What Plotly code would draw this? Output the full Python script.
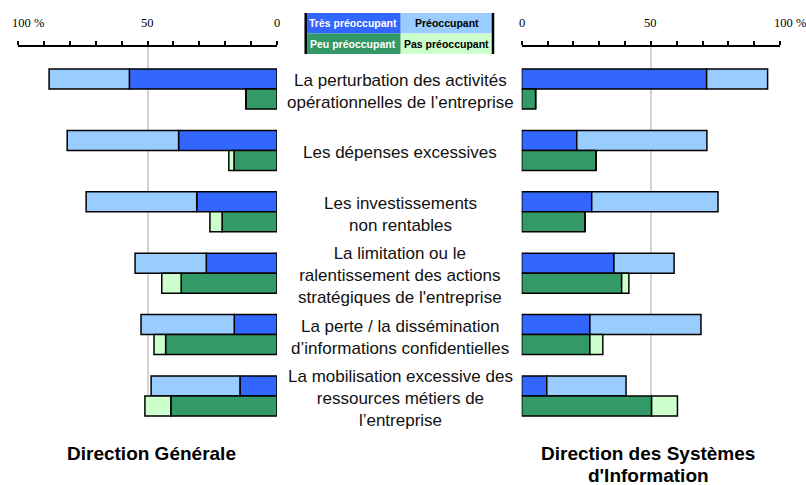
import plotly.graph_objects as go

# Risk categories, top to bottom
categories = [
    "La perturbation des activités<br>opérationnelles de l’entreprise",
    "Les dépenses excessives",
    "Les investissements<br>non rentables",
    "La limitation ou le<br>ralentissement des actions<br>stratégiques de l'entreprise",
    "La perte / la dissémination<br>d’informations confidentielles",
    "La mobilisation excessive des<br>ressources métiers de<br>l’entreprise",
]

levels = ["Très préoccupant", "Préoccupant", "Peu préoccupant", "Pas préoccupant"]
level_colors = ["#3366FF", "#99CCFF", "#339966", "#CCFFCC"]
level_text_colors = ["white", "black", "white", "black"]

# Direction Générale (%)
dg_tres = [57.0, 38.0, 31.0, 27.3, 16.5, 14.3]
dg_preoc = [31.0, 43.0, 42.7, 27.5, 36.0, 34.3]
dg_peu = [12.0, 16.6, 21.2, 37.0, 43.0, 41.0]
dg_pas = [0.0, 2.0, 4.7, 7.5, 4.5, 10.0]

# Direction des Systèmes d'Information (%)
dsi_tres = [71.6, 21.3, 27.1, 35.7, 26.4, 9.7]
dsi_preoc = [23.6, 50.4, 48.9, 23.3, 43.0, 30.7]
dsi_peu = [5.4, 28.8, 24.5, 38.7, 26.4, 50.3]
dsi_pas = [0.0, 0.0, 0.0, 2.8, 5.0, 10.0]

tick_vals = [0, 50, 100]
tick_labels = ["0", "50", "100 %"]

panel_titles = [["Direction Générale"], ["Direction des Systèmes", "d'Information"]]

W, H = 806, 485
SANS = "Liberation Sans, Arial, sans-serif"
SERIF = "Liberation Serif, Times New Roman, serif"

BAR_W = 0.326
OFF = 0.163

fig = go.Figure()


def add_panel(tres, preoc, peu, pas, xa, ya):
    n = len(tres)
    top_y = [i - OFF for i in range(n)]
    bot_y = [i + OFF for i in range(n)]
    specs = [
        (tres, [0] * n, top_y, 0),
        (preoc, list(tres), top_y, 1),
        (peu, [0] * n, bot_y, 2),
        (pas, list(peu), bot_y, 3),
    ]
    for vals, base, ys, k in specs:
        fig.add_trace(go.Bar(
            x=vals, y=ys, base=base, orientation="h", width=BAR_W,
            marker=dict(color=level_colors[k], line=dict(color="black", width=1.5)),
            name=levels[k], showlegend=False, xaxis=xa, yaxis=ya,
            hoverinfo="x+name",
        ))


add_panel(dg_tres, dg_preoc, dg_peu, dg_pas, "x", "y")
add_panel(dsi_tres, dsi_preoc, dsi_peu, dsi_pas, "x2", "y2")

y_dom = [1 - 417 / H, 1 - 47 / H]
y_rng = [5.342, -0.684]

common_x = dict(
    side="top",
    tickvals=tick_vals,
    showticklabels=False,
    ticks="outside", ticklen=4, tickwidth=1.5, tickcolor="black",
    minor=dict(dtick=10, tick0=0, ticks="outside", ticklen=4, tickwidth=1.5,
               tickcolor="black", showgrid=False),
    showline=True, linecolor="black", linewidth=2,
    showgrid=True, gridcolor="#d4d4d4", gridwidth=2,
    zeroline=False,
    automargin=False,
    fixedrange=True,
)
common_y = dict(
    domain=y_dom, range=y_rng, showticklabels=False, showgrid=False,
    zeroline=False, showline=False, ticks="", fixedrange=True, automargin=False,
)

fig.update_layout(
    width=W, height=H, autosize=False,
    margin=dict(l=0, r=0, t=0, b=0, pad=0, autoexpand=False),
    paper_bgcolor="white", plot_bgcolor="white",
    barmode="overlay",
    xaxis=dict(domain=[18 / W, 277 / W], range=[100, 0], anchor="y", **common_x),
    xaxis2=dict(domain=[521.7 / W, 780 / W], range=[0, 100], anchor="y2", **common_x),
    yaxis=dict(anchor="x", **common_y),
    yaxis2=dict(anchor="x2", **common_y),
    font=dict(family=SANS),
)

# Axis tick labels above each scale ("100 %" starts just before its tick)
for xref in ("x", "x2"):
    for v, t in zip(tick_vals, tick_labels):
        wide = "%" in t
        fig.add_annotation(
            x=v, xref=xref, y=1 - 23 / H, yref="paper", text=t, showarrow=False,
            xanchor="left" if wide else "center", xshift=-8 if wide else 0,
            yanchor="middle",
            font=dict(family=SERIF, size=12.5, color="black"),
        )

# Category labels between the two panels
for i, lab in enumerate(categories):
    fig.add_annotation(
        x=400 / W, xref="paper", y=i + 0.04, yref="y",
        text=lab, showarrow=False, xanchor="center", yanchor="middle",
        font=dict(family=SANS, size=17, color="#111111"), align="center",
    )

# Panel titles, one annotation per line
title_x = [151, 648]
title_y0, title_dy = 453, 22
for lines, tx in zip(panel_titles, title_x):
    for j, line in enumerate(lines):
        fig.add_annotation(x=tx / W, xref="paper", y=1 - (title_y0 + j * title_dy) / H,
                           yref="paper", text="<b>" + line + "</b>", showarrow=False,
                           xanchor="center", yanchor="middle",
                           font=dict(family=SANS, size=19, color="black"))

# Colour key as a 2x2 table at the top centre
lx0, lxm, lx1 = 305.7, 400.7, 493.0
ly0, lym, ly1 = 13.0, 33.5, 54.0
cells = [(lx0, lxm, ly0, lym), (lxm, lx1, ly0, lym),
         (lx0, lxm, lym, ly1), (lxm, lx1, lym, ly1)]
for k, (a, b, c, d) in enumerate(cells):
    fig.add_shape(type="rect", xref="paper", yref="paper",
                  x0=a / W, x1=b / W, y0=1 - d / H, y1=1 - c / H,
                  fillcolor=level_colors[k], line=dict(width=0), layer="above")
    fig.add_annotation(x=(a + b) / 2 / W, xref="paper", y=1 - (c + d) / 2 / H, yref="paper",
                       text="<b>" + levels[k] + "</b>", showarrow=False,
                       xanchor="center", yanchor="middle",
                       font=dict(family=SANS, size=10.5, color=level_text_colors[k]))
for xx in (lx0, lx1):
    fig.add_shape(type="line", xref="paper", yref="paper",
                  x0=xx / W, x1=xx / W, y0=1 - ly1 / H, y1=1 - ly0 / H,
                  line=dict(color="black", width=2.5), layer="above")

fig.write_html("out.html", config={"responsive": False, "displayModeBar": False})
